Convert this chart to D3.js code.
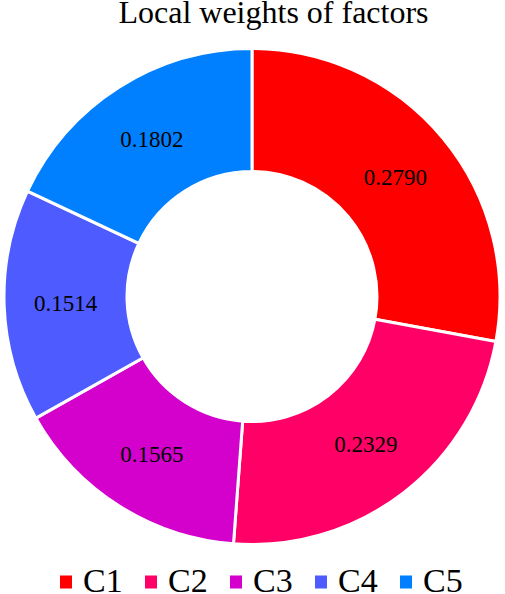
<!DOCTYPE html>
<html>
<head>
<meta charset="utf-8">
<script src="https://cdn.jsdelivr.net/npm/d3@7"></script>
<style>
  body { margin: 0; background: #fff; }
  text { font-family: "Liberation Serif", "Times New Roman", serif; }
</style>
</head>
<body>
<div id="chart"></div>
<script>
var categories = ["C1", "C2", "C3", "C4", "C5"];
var weights = [0.2790, 0.2329, 0.1565, 0.1514, 0.1802];
var colors = ["#ff0000", "#ff0066", "#d400cc", "#4d5bff", "#0080ff"];

var width = 505, height = 594;
var cx = 252, cy = 296.5;
var outerR = 248, innerR = 125;

var svg = d3.select("#chart")
    .append("svg")
    .attr("width", width)
    .attr("height", height);

svg.append("text")
    .attr("x", 273.5)
    .attr("y", 23)
    .attr("text-anchor", "middle")
    .style("font-size", "32px")
    .text("Local weights of factors");

var data = categories.map(function(c, i) { return {name: c, value: weights[i]}; });

var pie = d3.pie().sort(null).value(function(d) { return d.value; });
var arc = d3.arc().innerRadius(innerR).outerRadius(outerR);

var g = svg.append("g").attr("transform", "translate(" + cx + "," + cy + ")");

var slices = g.selectAll("g.slice")
    .data(pie(data))
    .enter().append("g")
    .attr("class", "slice");

slices.append("path")
    .attr("d", arc)
    .style("fill", function(d, i) { return colors[i]; })
    .style("stroke", "#fff")
    .style("stroke-width", 3);

slices.append("text")
    .attr("transform", function(d) { return "translate(" + arc.centroid(d) + ")"; })
    .attr("text-anchor", "middle")
    .attr("dy", "0.35em")
    .style("font-size", "23px")
    .text(function(d) { return d.data.value.toFixed(4); });

// legend
var legend = svg.append("g").attr("transform", "translate(60,0)");
var item = legend.selectAll("g")
    .data(categories)
    .enter().append("g")
    .attr("transform", function(d, i) { return "translate(" + (i * 85) + ",0)"; });

item.append("rect")
    .attr("x", 0)
    .attr("y", 575.5)
    .attr("width", 12)
    .attr("height", 13)
    .style("fill", function(d, i) { return colors[i]; });

item.append("text")
    .attr("x", 23)
    .attr("y", 592)
    .style("font-size", "34px")
    .text(function(d) { return d; });
</script>
</body>
</html>
